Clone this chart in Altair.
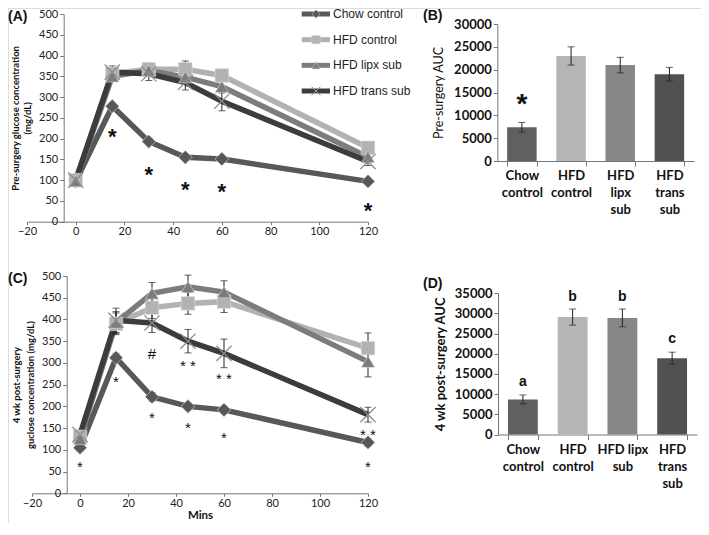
import altair as alt
import pandas as pd

FONT = "Lato"
W, H = 693, 515   # whole drawing area (svg), placed at the page's 8px margin
M = 8

# ---------------- data ----------------
series = ["Chow control", "HFD control", "HFD lipx sub", "HFD trans sub"]
line_colors = ["#585858", "#b2b2b2", "#7c7c7c", "#3c3c3c"]
bar_colors = ["#606060", "#b5b5b5", "#878787", "#515151"]
marker_shapes = ["diamond", "square", "triangle-up", "M-1,-1L1,1M-1,1L1,-1"]
marker_sizes = [190, 170, 210, 230]

minutes = [0, 15, 30, 45, 60, 120]
x_ticks = [-20, 0, 20, 40, 60, 80, 100, 120]
glucose_ticks = [0, 50, 100, 150, 200, 250, 300, 350, 400, 450, 500]

# (A) pre-surgery glucose
pre_chow = [97, 278, 193, 155, 151, 97]
pre_hfd_control = [100, 356, 367, 367, 352, 178]
pre_hfd_lipx = [98, 350, 364, 348, 325, 156]
pre_hfd_trans = [100, 360, 356, 335, 290, 145]
pre_chow_sem = [5, 8, 8, 6, 6, 5]
pre_hfd_control_sem = [8, 15, 15, 20, 10, 12]
pre_hfd_lipx_sem = [8, 12, 12, 15, 15, 10]
pre_hfd_trans_sem = [8, 15, 16, 18, 23, 10]
pre_mark_minutes = [15, 30, 45, 60, 120]
pre_mark_values = [218, 128, 90, 87, 39]
pre_mark_text = ["*", "*", "*", "*", "*"]

# (C) 4 wk post-surgery glucose
post_chow = [105, 312, 222, 200, 192, 117]
post_hfd_control = [130, 390, 427, 437, 441, 334]
post_hfd_lipx = [125, 393, 460, 475, 463, 303]
post_hfd_trans = [135, 398, 392, 350, 322, 181]
post_chow_sem = [8, 10, 10, 8, 8, 8]
post_hfd_control_sem = [10, 25, 25, 25, 25, 35]
post_hfd_lipx_sem = [10, 25, 25, 27, 26, 35]
post_hfd_trans_sem = [10, 28, 22, 27, 33, 17]
post_mark_minutes = [0, 15, 30, 45, 60, 120, 30, 45, 60, 120]
post_mark_values = [69, 265, 183, 160, 137, 69, 330, 303, 273, 144]
post_mark_text = ["*", "*", "*", "*", "*", "*", "#", "* *", "* *", "* *"]

# (B) pre-surgery AUC
pre_auc = [7400, 23000, 21000, 19000]
pre_auc_sem = [1050, 2000, 1700, 1500]
pre_auc_mark_group = ["Chow control"]
pre_auc_mark_value = [14100]
pre_auc_mark_text = ["*"]

# (D) post-surgery AUC
post_auc = [8700, 29100, 28900, 18900]
post_auc_sem = [1100, 2000, 2200, 1500]
post_auc_letters = ["a", "b", "b", "c"]
post_auc_letter_values = [11900, 33200, 33200, 22600]

panel_tags = ["(A)", "(B)", "(C)", "(D)"]


def p(v):
    """page pixel -> drawing pixel"""
    return v - M


AX = dict(grid=False, domainColor="#777", tickColor="#777", labelColor="#222",
          titleColor="#111", labelFont=FONT, titleFont=FONT)


def line_panel(vals, sems, mk_x, mk_y, mk_t, xr, yr, yaxis_px, ytitle, ytitle_size,
               ytitle_lh, ytitle_pad, xtitle, mk_size, mk_weight):
    rows = []
    for s, v, e in zip(series, vals, sems):
        for m, vv, ee in zip(minutes, v, e):
            rows.append({"series": s, "minute": m, "value": vv, "lo": vv - ee, "hi": vv + ee})
    df = pd.DataFrame(rows)
    mk = pd.DataFrame({"minute": mk_x, "value": mk_y, "txt": mk_t})

    xs = alt.Scale(domain=[-20, 120], range=[p(xr[0]), p(xr[1])], nice=False, zero=False)
    ys = alt.Scale(domain=[0, 500], range=[p(yr[0]), p(yr[1])], nice=False)
    xaxis_kw = dict(orient="bottom", offset=p(yr[0]) - H, values=x_ticks, labelFontSize=11,
                    tickSize=3, labelPadding=1, labelFlush=False, labelOverlap=False, **AX)
    if xtitle:
        xaxis = alt.Axis(title=xtitle, titleFontSize=11.5, titleFontWeight="bold",
                         titlePadding=1, **xaxis_kw)
    else:
        xaxis = alt.Axis(title=None, **xaxis_kw)
    yaxis = alt.Axis(orient="left", offset=-p(yaxis_px), values=glucose_ticks, title=ytitle,
                     titleFontSize=ytitle_size, titleFontWeight="bold", titleLineHeight=ytitle_lh,
                     titlePadding=ytitle_pad, labelFontSize=11, tickSize=4, labelPadding=2,
                     labelFlush=False, labelOverlap=False, **AX)
    X = alt.X("minute:Q", scale=xs, axis=xaxis)
    Y = alt.Y("value:Q", scale=ys, axis=yaxis)
    color = alt.Color("series:N", scale=alt.Scale(domain=series, range=line_colors), legend=None)

    base = alt.Chart(df)
    lines = base.mark_line(strokeWidth=5.5).encode(x=X, y=Y, color=color, order="minute:Q")
    err = base.mark_rule(color="#222", strokeWidth=1).encode(
        x=X, y=alt.Y("lo:Q", scale=ys, axis=yaxis), y2="hi:Q")
    cap_lo = base.mark_tick(orient="horizontal", size=7, thickness=1, color="#222").encode(
        x=X, y=alt.Y("lo:Q", scale=ys, axis=yaxis))
    cap_hi = base.mark_tick(orient="horizontal", size=7, thickness=1, color="#222").encode(
        x=X, y=alt.Y("hi:Q", scale=ys, axis=yaxis))
    pts = base.transform_filter(alt.datum.series != series[3]).mark_point(
        filled=True, opacity=1, stroke="#dddddd", strokeWidth=0.6).encode(
        x=X, y=Y, color=color,
        shape=alt.Shape("series:N", scale=alt.Scale(domain=series, range=marker_shapes), legend=None),
        size=alt.Size("series:N", scale=alt.Scale(domain=series, range=marker_sizes), legend=None))
    xm = base.transform_filter(alt.datum.series == series[3]).mark_point(
        shape=marker_shapes[3], filled=False, size=marker_sizes[3], strokeWidth=1.3,
        color="#8d8d8d", opacity=1).encode(x=X, y=Y)
    stars = alt.Chart(mk).mark_text(fontSize=mk_size, fontWeight=mk_weight, color="#111",
                                    dy=round(0.27 * mk_size)).encode(x=X, y=Y, text="txt:N")
    return alt.layer(lines, err, cap_lo, cap_hi, pts, xm, stars)


def bar_panel(vals, sems, xr, yr, ymax, ytitle, ytitle_size, ytitle_weight, ytitle_pad,
              label_expr, label_pad, yaxis_px, mk_groups, mk_vals, mk_text, mk_size,
              mk_baseline, mk_dy):
    df = pd.DataFrame({"group": series, "auc": vals,
                       "lo": [v - e for v, e in zip(vals, sems)],
                       "hi": [v + e for v, e in zip(vals, sems)]})
    mk = pd.DataFrame({"group": mk_groups, "auc": mk_vals, "txt": mk_text})
    xs = alt.Scale(domain=series, range=[p(xr[0]), p(xr[1])], paddingInner=0.4, paddingOuter=0.2)
    ys = alt.Scale(domain=[0, ymax], range=[p(yr[0]), p(yr[1])], nice=False)
    xaxis = alt.Axis(orient="bottom", offset=p(yr[0]) - H, title=None, tickBand="extent",
                     labelExpr=label_expr, labelAngle=0, labelFontSize=13, labelFontWeight="bold",
                     labelLineHeight=17, labelPadding=label_pad, tickSize=5, labelColor="#111",
                     grid=False, domainColor="#777", tickColor="#777", labelFont=FONT)
    yaxis = alt.Axis(orient="left", offset=-p(yaxis_px), values=list(range(0, ymax + 1, 5000)),
                     format="d", title=ytitle, titleFontSize=ytitle_size,
                     titleFontWeight=ytitle_weight, titlePadding=ytitle_pad, labelFontSize=13,
                     labelFontWeight="bold", tickSize=4, labelPadding=2, labelFlush=False,
                     labelOverlap=False, grid=False, domainColor="#777", tickColor="#777",
                     labelColor="#111", titleColor="#111", labelFont=FONT, titleFont=FONT)
    X = alt.X("group:N", scale=xs, sort=series, axis=xaxis)
    Y = alt.Y("auc:Q", scale=ys, axis=yaxis)
    base = alt.Chart(df)
    bars = base.mark_bar().encode(
        x=X, y=Y, color=alt.Color("group:N", scale=alt.Scale(domain=series, range=bar_colors),
                                  legend=None))
    err = base.mark_rule(color="#222", strokeWidth=1).encode(
        x=X, y=alt.Y("lo:Q", scale=ys, axis=yaxis), y2="hi:Q")
    cap_lo = base.mark_tick(orient="horizontal", size=7, thickness=1, color="#222").encode(
        x=X, y=alt.Y("lo:Q", scale=ys, axis=yaxis))
    cap_hi = base.mark_tick(orient="horizontal", size=7, thickness=1, color="#222").encode(
        x=X, y=alt.Y("hi:Q", scale=ys, axis=yaxis))
    marks = alt.Chart(mk).mark_text(fontSize=mk_size, fontWeight="bold", color="#111",
                                    baseline=mk_baseline, dy=mk_dy).encode(
        x=X, y=Y, text="txt:N")
    return alt.layer(bars, err, cap_lo, cap_hi, marks)


panel_a = line_panel(
    [pre_chow, pre_hfd_control, pre_hfd_lipx, pre_hfd_trans],
    [pre_chow_sem, pre_hfd_control_sem, pre_hfd_lipx_sem, pre_hfd_trans_sem],
    pre_mark_minutes, pre_mark_values, pre_mark_text,
    xr=(27, 368), yr=(221.7, 14), yaxis_px=63.7,
    ytitle=["Pre-surgery glucose concentration", "(mg/dL)"], ytitle_size=9.5, ytitle_lh=12,
    ytitle_pad=6, xtitle=None, mk_size=22, mk_weight="bold")

panel_c = line_panel(
    [post_chow, post_hfd_control, post_hfd_lipx, post_hfd_trans],
    [post_chow_sem, post_hfd_control_sem, post_hfd_lipx_sem, post_hfd_trans_sem],
    post_mark_minutes, post_mark_values, post_mark_text,
    xr=(32, 368), yr=(493.3, 276), yaxis_px=66.7,
    ytitle=["4 wk post-surgery", "guclose concentration (mg/dL)"], ytitle_size=9.5,
    ytitle_lh=14, ytitle_pad=6, xtitle="Mins", mk_size=15, mk_weight="normal")

panel_b = bar_panel(
    pre_auc, pre_auc_sem, xr=(497.3, 694), yr=(161, 24), ymax=30000,
    ytitle="Pre-surgery AUC", ytitle_size=12.5, ytitle_weight="normal", ytitle_pad=8,
    label_expr="split(datum.label, ' ')", label_pad=3, yaxis_px=497.3,
    mk_groups=pre_auc_mark_group, mk_vals=pre_auc_mark_value, mk_text=pre_auc_mark_text,
    mk_size=28, mk_baseline="middle", mk_dy=8)

panel_d = bar_panel(
    post_auc, post_auc_sem, xr=(498, 697), yr=(434.5, 293.3), ymax=35000,
    ytitle="4 wk post-surgery AUC", ytitle_size=13, ytitle_weight="bold", ytitle_pad=7,
    label_expr="datum.label == 'HFD lipx sub' ? ['HFD lipx', 'sub'] : split(datum.label, ' ')",
    label_pad=4, yaxis_px=498,
    mk_groups=series, mk_vals=post_auc_letter_values, mk_text=post_auc_letters,
    mk_size=14, mk_baseline="alphabetic", mk_dy=0)

# legend of panel A, drawn from the series list
leg = alt.Chart(pd.DataFrame({"series": series}))
leg_y = alt.Y("series:N", scale=alt.Scale(type="point", domain=series, range=[p(14), p(91)],
                                          padding=0), axis=None)
leg_color = alt.Color("series:N", scale=alt.Scale(domain=series, range=line_colors), legend=None)
leg_lines = leg.mark_rule(strokeWidth=5).encode(
    y=leg_y, x=alt.value(p(301.7)), x2=alt.value(p(330)), color=leg_color)
leg_pts = leg.transform_filter(alt.datum.series != series[3]).mark_point(
    filled=True, opacity=1, stroke="#dddddd", strokeWidth=0.5).encode(
    y=leg_y, x=alt.value(p(316)), color=leg_color,
    shape=alt.Shape("series:N", scale=alt.Scale(domain=series, range=marker_shapes), legend=None),
    size=alt.value(70))
leg_x = leg.transform_filter(alt.datum.series == series[3]).mark_point(
    shape=marker_shapes[3], filled=False, size=80, strokeWidth=1, color="#9a9a9a",
    opacity=1).encode(y=leg_y, x=alt.value(p(316)))
leg_text = leg.mark_text(align="left", baseline="middle", fontSize=12, color="#222").encode(
    y=leg_y, x=alt.value(p(333)), text="series:N")
legend = alt.layer(leg_lines, leg_pts, leg_x, leg_text)

# panel tags
tag_pos = [(8, 17), (423, 16), (8, 279), (423, 284)]
tags = []
for t, (tx, ty) in zip(panel_tags, tag_pos):
    tags.append(alt.Chart(pd.DataFrame({"tag": [t]})).mark_text(
        align="left", baseline="middle", fontSize=14, fontWeight="bold", color="#111").encode(
        x=alt.value(p(tx)), y=alt.value(p(ty)), text="tag:N"))

chart = alt.layer(panel_a, panel_b, panel_c, panel_d, legend, *tags).resolve_scale(
    x="independent", y="independent", color="independent", shape="independent",
    size="independent"
).properties(
    width=W, height=H, padding=0, autosize=alt.AutoSizeParams(type="none")
).configure_view(stroke=None).configure_text(font=FONT).configure(background="white")

chart.save("out.html", embed_options={"renderer": "svg", "actions": False})
